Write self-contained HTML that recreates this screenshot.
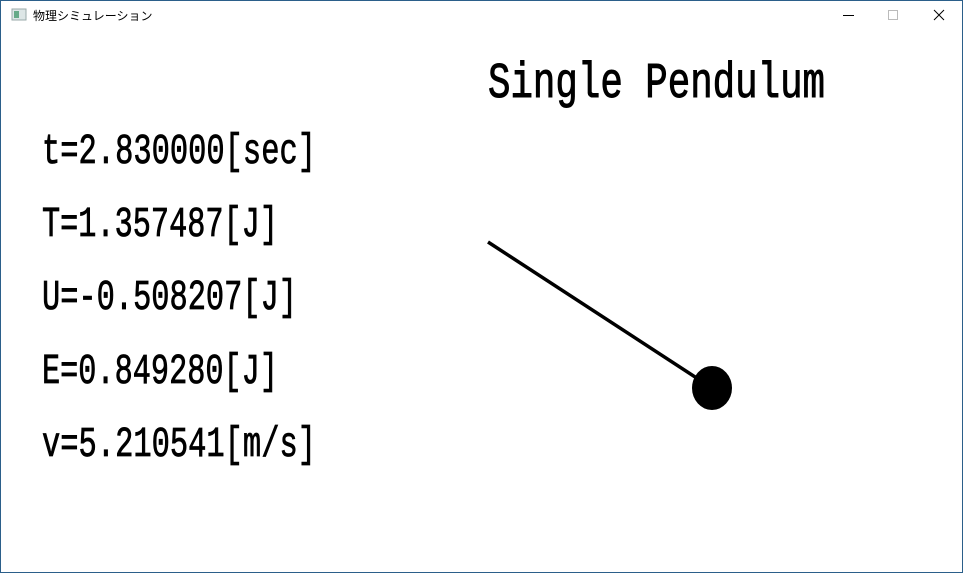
<!DOCTYPE html>
<html><head><meta charset="utf-8"><style>
html,body{margin:0;padding:0;background:#fff;width:964px;height:574px;overflow:hidden}
svg{display:block}
</style></head><body>
<svg width="964" height="574" viewBox="0 0 964 574">
<rect x="0" y="0" width="964" height="574" fill="#fff"/>
<rect x="0.5" y="0.5" width="962" height="572" fill="none" stroke="#2b5f8a" stroke-width="1"/>
<g>
  <rect x="12" y="9" width="14" height="11" fill="#dde6e6" stroke="#9aa" stroke-width="1"/>
  <rect x="14" y="11" width="5" height="7" fill="#6a8"/>
  <text x="33" y="20" font-family="'Liberation Sans','Noto Sans CJK JP',sans-serif" font-size="12" fill="#000">物理シミュレーション</text>
  <line x1="843" y1="15.5" x2="854" y2="15.5" stroke="#000" stroke-width="1"/>
  <rect x="888.5" y="10.5" width="9" height="9" fill="none" stroke="#bbb"/>
  <path d="M934 10 L944 20 M944 10 L934 20" stroke="#000" stroke-width="1"/>
</g>
<text x="488" y="97" font-family="'Liberation Mono',monospace" font-size="50" stroke="#000" stroke-width="1" textLength="337" lengthAdjust="spacingAndGlyphs" fill="#000">Single Pendulum</text>
<g font-family="'Liberation Mono',monospace" font-size="43" fill="#000" stroke="#000" stroke-width="0.8">
  <text x="42" y="163" textLength="274" lengthAdjust="spacingAndGlyphs">t=2.830000[sec]</text>
  <text x="42" y="236" textLength="236" lengthAdjust="spacingAndGlyphs">T=1.357487[J]</text>
  <text x="42" y="309" textLength="255" lengthAdjust="spacingAndGlyphs">U=-0.508207[J]</text>
  <text x="42" y="383" textLength="236" lengthAdjust="spacingAndGlyphs">E=0.849280[J]</text>
  <text x="42" y="456" textLength="274" lengthAdjust="spacingAndGlyphs">v=5.210541[m/s]</text>
</g>
<line x1="488" y1="242" x2="712" y2="388" stroke="#000" stroke-width="3.5"/>
<ellipse cx="712" cy="388" rx="20" ry="22" fill="#000"/>
</svg>
</body></html>
